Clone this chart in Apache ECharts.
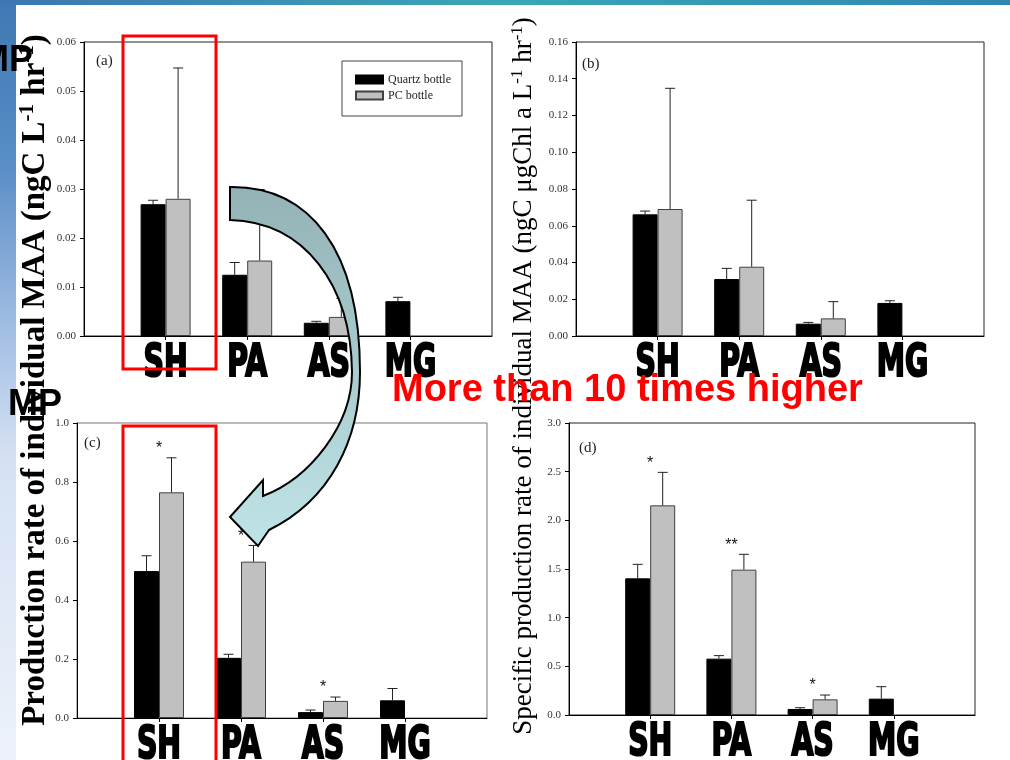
<!DOCTYPE html>
<html><head><meta charset="utf-8">
<script src="https://cdn.jsdelivr.net/npm/echarts@6/dist/echarts.min.js"></script>
<style>
html,body{margin:0;padding:0;background:#fff;}
#wrap{position:relative;width:1010px;height:760px;overflow:hidden;background:#fff;}
#left{position:absolute;left:0;top:0;width:16px;height:760px;background:linear-gradient(to bottom,#3f78b3 0%,#5a8ec6 22%,#a8c2e6 45%,#d5e1f3 60%,#edf2fa 100%);}
#top{position:absolute;left:0;top:0;width:1010px;height:5px;background:linear-gradient(to right,#3d76b2 0%,#3aa7b6 50%,#2f86b3 100%);}
#chart{position:absolute;left:0;top:0;width:1010px;height:760px;}
</style></head>
<body><div id="wrap"><div id="left"></div><div id="top"></div><div id="chart"></div></div>
<script>
// ---- data ----
const categories = ['', 'SH', 'PA', 'AS', 'MG', ''];
const seriesNames = ['Quartz bottle', 'PC bottle'];

// (a) production rate
const aQuartz   = [0.0269, 0.0125, 0.0027, 0.0071];
const aQuartzSD = [0.0008, 0.0025, 0.0003, 0.0008];
const aPC       = [0.0280, 0.0154, 0.0039, null];
const aPCSD     = [0.0267, 0.0145, 0.0038, null];
// (b) specific production rate
const bQuartz   = [0.0662, 0.0310, 0.0067, 0.0180];
const bQuartzSD = [0.0018, 0.0058, 0.0007, 0.0012];
const bPC       = [0.0691, 0.0377, 0.0096, null];
const bPCSD     = [0.0657, 0.0362, 0.0091, null];
// (c) production rate
const cQuartz   = [0.498, 0.204, 0.020, 0.060];
const cQuartzSD = [0.052, 0.012, 0.007, 0.040];
const cPC       = [0.765, 0.530, 0.058, null];
const cPCSD     = [0.117, 0.055, 0.013, null];
const cStars    = ['*', '*', '*', ''];
// (d) specific production rate
const dQuartz   = [1.404, 0.579, 0.062, 0.168];
const dQuartzSD = [0.144, 0.031, 0.013, 0.123];
const dPC       = [2.154, 1.493, 0.161, null];
const dPCSD     = [0.339, 0.158, 0.044, null];
const dStars    = ['*', '**', '*', ''];

const panelLabels = ['(a)', '(b)', '(c)', '(d)'];
const yTitleLeft = ['Production rate of individual MAA (ngC L', '-1', ' hr', '-1', ')'];
const yTitleRight = ['Specific production rate of individual MAA (ngC \u03bcgChl a L', '-1', ' hr', '-1', ')'];
const note = 'More than 10 times higher';
const mpText = 'MP';

// ---- styling ----
const serif = "'Liberation Serif','Times New Roman',serif";
const narrow = "'DejaVu Sans Condensed','Liberation Sans Narrow','Arial Narrow',sans-serif";
const sans = "'Liberation Sans',Arial,sans-serif";

const grids = [
  {left: 84, top: 42, width: 408, height: 294, borderColor: '#222'},
  {left: 576, top: 42, width: 408, height: 294, borderColor: '#222'},
  {left: 77, top: 423, width: 410, height: 295, borderColor: '#777'},
  {left: 569, top: 423, width: 406, height: 292, borderColor: '#222'}
].map(g => Object.assign({show: true, borderWidth: 1, backgroundColor: 'transparent'}, g));

function makeX(gi) {
  return {
    type: 'category', gridIndex: gi, data: categories, boundaryGap: false,
    axisLine: {lineStyle: {color: '#000', width: 1}},
    axisTick: {show: true, length: 4, interval: (i) => i > 0 && i < categories.length - 1, lineStyle: {color: '#000'}},
    axisLabel: {show: false},
    splitLine: {show: false}
  };
}
function makeY(gi, max, step, dec) {
  return {
    type: 'value', gridIndex: gi, min: 0, max: max, interval: step,
    axisLine: {show: true, lineStyle: {color: '#000'}},
    axisTick: {show: true, length: 4, lineStyle: {color: '#000'}},
    axisLabel: {formatter: v => v.toFixed(dec), fontFamily: serif, fontSize: 11, color: '#333', margin: 8},
    splitLine: {show: false}
  };
}
const pad = arr => ['-'].concat(arr.map(v => v == null ? '-' : v)).concat(['-']);

function barSeries(gi, q, pc) {
  return [
    {type: 'bar', name: seriesNames[0], xAxisIndex: gi, yAxisIndex: gi, data: pad(q), barWidth: 25, barGap: '0%',
     itemStyle: {color: '#000', borderColor: '#000', borderWidth: 1}, z: 2},
    {type: 'bar', name: seriesNames[1], xAxisIndex: gi, yAxisIndex: gi, data: pad(pc), barWidth: 25, barGap: '0%',
     itemStyle: {color: '#c0c0c0', borderColor: '#404040', borderWidth: 1}, z: 2}
  ];
}
function errSeries(gi, vals, sds, off, stars) {
  const data = [];
  const starList = [];
  vals.forEach((v, i) => {
    if (v == null || sds[i] == null) return;
    data.push([i + 1, v, v + sds[i]]);
    starList.push(stars ? stars[i] : '');
  });
  return {
    type: 'custom', xAxisIndex: gi, yAxisIndex: gi, silent: true, z: 5, data: data,
    renderItem: (p, api) => {
      const b = api.coord([api.value(0), api.value(1)]);
      const t = api.coord([api.value(0), api.value(2)]);
      const x = b[0] + off;
      const ch = [
        {type: 'line', shape: {x1: x, y1: b[1], x2: x, y2: t[1]}, style: {stroke: '#222', lineWidth: 1}},
        {type: 'line', shape: {x1: x - 5, y1: t[1], x2: x + 5, y2: t[1]}, style: {stroke: '#222', lineWidth: 1}}
      ];
      const s = starList[p.dataIndex];
      if (s) ch.push({type: 'text', x: b[0], y: t[1] - 9,
        style: {text: s, fontFamily: sans, fontSize: 16, fill: '#111', align: 'center', verticalAlign: 'middle'}});
      return {type: 'group', children: ch};
    }
  };
}
// category names drawn under each axis (condensed heavy lettering)
function labelSeries(gi) {
  const data = [];
  categories.forEach((c, i) => { if (c) data.push([i, 0]); });
  return {
    type: 'custom', xAxisIndex: gi, yAxisIndex: gi, silent: true, z: 6, clip: false, data: data,
    renderItem: (p, api) => {
      const idx = api.value(0);
      const pt = api.coord([idx, 0]);
      return {type: 'text', x: pt[0], y: pt[1] + 6, scaleX: 0.7,
        style: {text: categories[idx], fontFamily: narrow, fontWeight: 'bold', fontSize: 45, fill: '#000',
                stroke: '#000', lineWidth: 2.2, align: 'center', verticalAlign: 'top'}};
    }
  };
}

// curved annotation arrow (drawn as a custom path, not data)
const arrowPath = 'M230,187 C310,186 360,250 360,372 C360,440 330,500 269,530 L258,546 L230,517 L263,480 L263,496 C310,478 352,425 352,372 C351,285 305,222 230,220 Z';
const arrowSeries = {
  type: 'custom', coordinateSystem: 'none', silent: true, z: 100, data: [[0]],
  renderItem: () => ({
    type: 'path', shape: {pathData: arrowPath},
    style: {fill: {type: 'linear', x: 0, y: 0, x2: 0, y2: 1, colorStops: [{offset: 0, color: '#93b2b5'}, {offset: 0.5, color: '#a9cbce'}, {offset: 1, color: '#bfe4e7'}]},
            stroke: '#000', lineWidth: 2}
  })
};

const series = [].concat(
  barSeries(0, aQuartz, aPC), barSeries(1, bQuartz, bPC), barSeries(2, cQuartz, cPC), barSeries(3, dQuartz, dPC),
  [errSeries(0, aQuartz, aQuartzSD, -12.5), errSeries(0, aPC, aPCSD, 12.5),
   errSeries(1, bQuartz, bQuartzSD, -12.5), errSeries(1, bPC, bPCSD, 12.5),
   errSeries(2, cQuartz, cQuartzSD, -12.5), errSeries(2, cPC, cPCSD, 12.5, cStars),
   errSeries(3, dQuartz, dQuartzSD, -12.5), errSeries(3, dPC, dPCSD, 12.5, dStars),
   labelSeries(0), labelSeries(1), labelSeries(2), labelSeries(3),
   arrowSeries]
);

function richTitle(parts, size, weight, supSize) {
  const text = parts.map((p, i) => (i % 2 === 1 ? '{s|' : '{m|') + p + '}').join('');
  return {
    text: text,
    rich: {
      m: {fontFamily: serif, fontWeight: weight, fontSize: size, fill: '#000', lineHeight: size + 2},
      s: {fontFamily: serif, fontWeight: weight, fontSize: supSize, fill: '#000', verticalAlign: 'top', lineHeight: size + 2}
    },
    align: 'center', verticalAlign: 'middle'
  };
}

const panelPos = [[96, 61], [582, 64], [84, 443], [579, 448]];

const graphic = [
  {type: 'text', x: 35, y: 380, rotation: Math.PI / 2, z: 50, style: richTitle(yTitleLeft, 33, 'bold', 21)},
  {type: 'text', x: 524, y: 376, rotation: Math.PI / 2, z: 50, style: richTitle(yTitleRight, 27, 'normal', 17)},
  {type: 'text', x: -21, y: 61, z: 60, style: {text: mpText, fontFamily: sans, fontWeight: 'bold', fontSize: 36, fill: '#000', verticalAlign: 'middle'}},
  {type: 'text', x: 8, y: 405, z: 60, style: {text: mpText, fontFamily: sans, fontWeight: 'bold', fontSize: 36, fill: '#000', verticalAlign: 'middle'}},
  {type: 'text', x: 392, y: 391, z: 60, style: {text: note, fontFamily: sans, fontWeight: 'bold', fontSize: 38, fill: '#ff0000', verticalAlign: 'middle'}},
  {type: 'rect', shape: {x: 342, y: 61, width: 120, height: 55}, z: 10, style: {fill: 'none', stroke: '#444', lineWidth: 1}},
  {type: 'rect', shape: {x: 123, y: 36, width: 93, height: 333}, z: 70, style: {fill: 'none', stroke: '#ff0000', lineWidth: 3}},
  {type: 'rect', shape: {x: 123, y: 426, width: 93, height: 400}, z: 70, style: {fill: 'none', stroke: '#ff0000', lineWidth: 3}}
].concat(panelLabels.map((t, i) => ({type: 'text', x: panelPos[i][0], y: panelPos[i][1], z: 20,
  style: {text: t, fontFamily: serif, fontSize: 15, fill: '#222', verticalAlign: 'middle'}})));

const chart = echarts.init(document.getElementById('chart'), null, {renderer: 'canvas'});
chart.setOption({
  animation: false,
  backgroundColor: 'transparent',
  grid: grids,
  xAxis: [makeX(0), makeX(1), makeX(2), makeX(3)],
  yAxis: [makeY(0, 0.06, 0.01, 2), makeY(1, 0.16, 0.02, 2), makeY(2, 1.0, 0.2, 1), makeY(3, 3.0, 0.5, 1)],
  legend: {data: seriesNames, orient: 'vertical', left: 355, top: 73, itemWidth: 27, itemHeight: 8, itemGap: 3, padding: 0,
    icon: 'rect', selectedMode: false, textStyle: {fontFamily: serif, fontSize: 12, color: '#222', lineHeight: 13}},
  series: series,
  graphic: graphic
});
</script></body></html>
